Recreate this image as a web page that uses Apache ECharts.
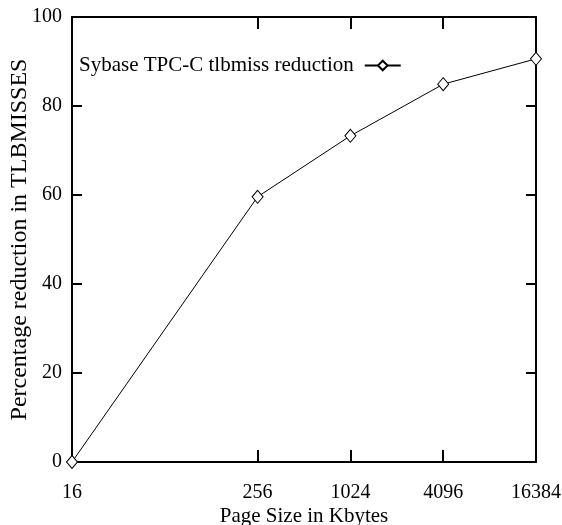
<!DOCTYPE html>
<html>
<head>
<meta charset="utf-8">
<script src="https://cdn.jsdelivr.net/npm/echarts@6/dist/echarts.min.js"></script>
<style>
  html, body { margin: 0; padding: 0; background: #fff; }
  #main { width: 562px; height: 525px; }
</style>
</head>
<body>
<div id="main"></div>
<script>
// page size (Kbytes) and % reduction in TLB misses
var pageSizes = [16, 256, 1024, 4096, 16384];
var reduction = [0, 59.6, 73.3, 84.9, 90.6];
var xTicks = [16, 256, 1024, 4096, 16384];
var yTicks = [0, 20, 40, 60, 80, 100];
var seriesName = 'Sybase TPC-C tlbmiss reduction';

var chart = echarts.init(document.getElementById('main'));
var font = 'Liberation Serif';

var points = [];
pageSizes.forEach(function (s, i) {
    points.push([s, reduction[i]]);
});

function xAxisCfg(pos, showLabel) {
    return {
        type: 'log',
        logBase: 2,
        position: pos,
        min: 16,
        max: 16384,
        axisLine: { show: true, onZero: false, lineStyle: { color: '#000', width: 2 } },
        axisTick: { show: true, inside: true, length: 12, customValues: xTicks,
            lineStyle: { color: '#000', width: 2 } },
        axisLabel: { show: showLabel, customValues: xTicks, margin: 21,
            color: '#000', fontFamily: font, fontSize: 20,
            formatter: function (v) { return String(Math.round(v)); } },
        splitLine: { show: false },
        minorTick: { show: false }
    };
}

function yAxisCfg(pos, showLabel) {
    return {
        type: 'value',
        position: pos,
        min: 0,
        max: 100,
        interval: 20,
        axisLine: { show: true, onZero: false, lineStyle: { color: '#000', width: 2 } },
        axisTick: { show: true, inside: true, length: 10,
            lineStyle: { color: '#000', width: 2 } },
        axisLabel: { show: showLabel, margin: 10,
            color: '#000', fontFamily: font, fontSize: 20 },
        splitLine: { show: false }
    };
}

var xb = xAxisCfg('bottom', true);
xb.name = 'Page Size in Kbytes';
xb.nameLocation = 'middle';
xb.nameGap = 44;
xb.nameMoveOverlap = false;
xb.nameTextStyle = { color: '#000', fontFamily: font, fontSize: 21 };

var yl = yAxisCfg('left', true);
yl.name = 'Percentage reduction in TLBMISSES';
yl.nameLocation = 'middle';
yl.nameGap = 40;
yl.nameMoveOverlap = false;
yl.nameTextStyle = { color: '#000', fontFamily: font, fontSize: 24 };

var option = {
    animation: false,
    backgroundColor: '#fff',
    grid: { left: 72, right: 26, top: 17, bottom: 63, containLabel: false, outerBoundsMode: 'none' },
    legend: {
        left: 74,
        top: 50,
        align: 'right',
        itemWidth: 36,
        itemHeight: 12,
        itemGap: 0,
        textStyle: { color: '#000', fontFamily: font, fontSize: 21, padding: [0, 6, 0, 0] },
        data: [seriesName]
    },
    xAxis: [xb, xAxisCfg('top', false)],
    yAxis: [yl, yAxisCfg('right', false)],
    series: [{
        name: seriesName,
        type: 'line',
        data: points,
        symbol: 'diamond',
        symbolSize: [11, 13],
        showAllSymbol: true,
        itemStyle: { color: '#fff', borderColor: '#000', borderWidth: 1 },
        lineStyle: { color: '#000', width: 1 }
    }]
};

option && chart.setOption(option);
</script>
</body>
</html>
